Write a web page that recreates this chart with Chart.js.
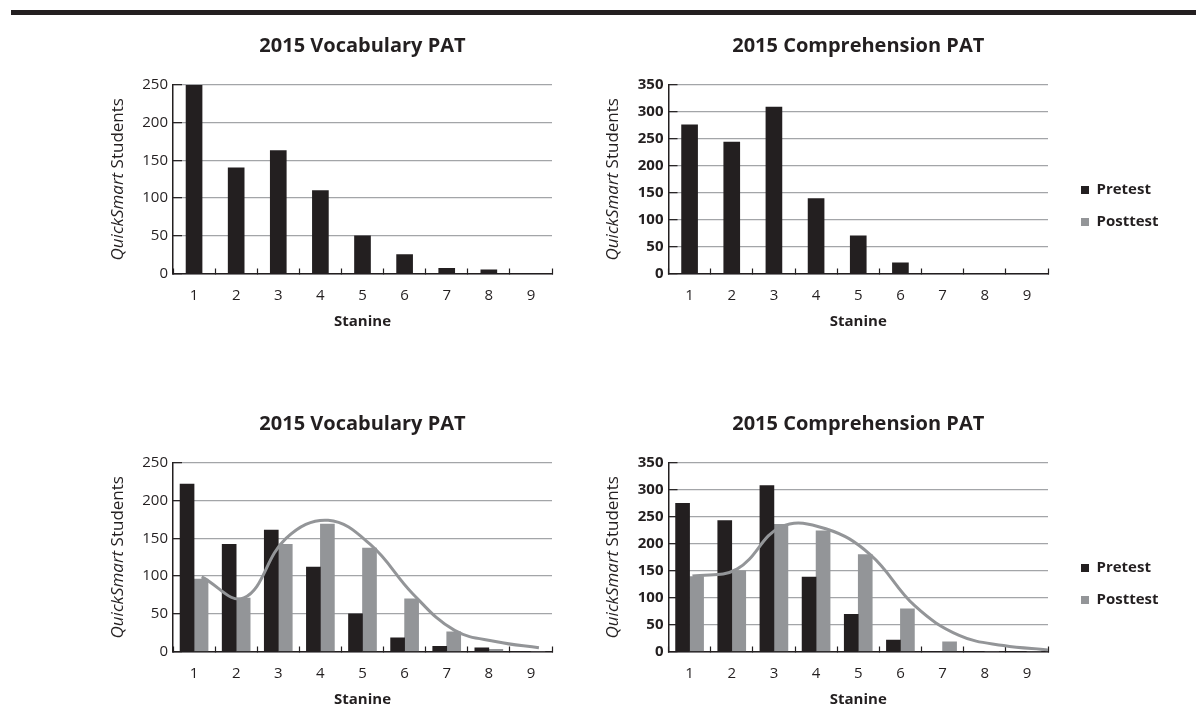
<!DOCTYPE html>
<html>
<head>
<meta charset="utf-8">
<title>2015 PAT stanines</title>
<script src="https://cdn.jsdelivr.net/npm/chart.js@4.4.1/dist/chart.umd.min.js"></script>
<style>
    body { margin: 0; background: #fff; width: 1196px; height: 712px; position: relative; overflow: hidden; }
    .rule { position: absolute; left: 11px; right: 0; top: 10px; height: 5px; background: #231f20; }
    .panel { position: absolute; }
</style>
</head>
<body>
<div class="rule"></div>
<div class="panel" style="left:0;top:20px;width:590px;height:320px"><canvas id="vocabTop"></canvas></div>
<div class="panel" style="left:590px;top:20px;width:606px;height:320px"><canvas id="compTop"></canvas></div>
<div class="panel" style="left:0;top:398px;width:590px;height:320px"><canvas id="vocabBottom"></canvas></div>
<div class="panel" style="left:590px;top:398px;width:606px;height:320px"><canvas id="compBottom"></canvas></div>

<script>
// stanine categories
const stanines = ['1', '2', '3', '4', '5', '6', '7', '8', '9'];

// top row: pretest only
const vocabPretestTop = [250, 140, 163, 110, 50, 25, 7, 5, 0];
const compPretestTop = [276, 244, 309, 139, 70, 20, 0, 0, 0];

// bottom row: pretest, posttest and the smoothed posttest curve
const vocabPretest = [222, 142, 161, 112, 50, 18, 7, 5, 0];
const vocabPosttest = [96, 71, 142, 169, 137, 70, 26, 3, 0];
const vocabCurve = [99, 71, 150, 174, 142, 77, 28, 13, 5];

const compPretest = [275, 243, 308, 138, 69, 21, 0, 0, 0];
const compPosttest = [139, 150, 236, 224, 180, 79, 18, 0, 0];
const compCurve = [140, 153, 232, 228, 180, 85, 30, 11, 3];

const ink = '#231f20';
const grey = '#939598';
const gridGrey = '#a3a5a8';
const family = '"Open Sans", "Noto Sans", sans-serif';

// y axis title with the italic programme name
const yTitlePlugin = {
    id: 'yTitle',
    beforeLayout(chart) {
        // fixed legend width so the plot keeps its place
        const lg = chart.legend;
        if (lg && !lg._fixedWidth) {
            const fit = lg.fit.bind(lg);
            lg.fit = function () {
                fit();
                if (this.options.display) this.width = 100;
            };
            lg._fixedWidth = true;
        }
    },
    afterDraw(chart) {
        const { ctx, chartArea } = chart;
        const x = chartArea.left - 55;
        const y = (chartArea.top + chartArea.bottom) / 2;
        const italicFont = `italic 17px ${family}`;
        const plainFont = `17px ${family}`;
        ctx.save();
        ctx.translate(x, y);
        ctx.rotate(-Math.PI / 2);
        ctx.fillStyle = ink;
        ctx.textBaseline = 'middle';
        ctx.textAlign = 'left';
        ctx.font = italicFont;
        const wa = ctx.measureText('QuickSmart').width;
        ctx.font = plainFont;
        const wb = ctx.measureText(' Students').width;
        const start = -(wa + wb) / 2;
        ctx.font = italicFont;
        ctx.fillText('QuickSmart', start, 0);
        ctx.font = plainFont;
        ctx.fillText(' Students', start + wa, 0);
        ctx.restore();
    }
};

function buildChart(id, opts) {
    const datasets = [];
    if (opts.curve) {
        datasets.push({
            type: 'line',
            label: 'Curve',
            data: opts.curve.map((v, i) => ({ x: Number(stanines[i]), y: v })),
            xAxisID: 'xCurve',
            borderColor: grey,
            borderWidth: 3,
            pointRadius: 0,
            tension: 0.4,
            fill: false,
            order: -1
        });
    }
    const grouped = !!opts.post;
    const thickness = opts.post ? 14 : 16;
    datasets.push({
        label: 'Pretest',
        data: opts.pre,
        backgroundColor: ink,
        borderWidth: 0,
        barThickness: thickness,
        grouped: grouped
    });
    datasets.push({
        label: 'Posttest',
        data: opts.post || [],
        backgroundColor: grey,
        borderWidth: 0,
        barThickness: thickness,
        grouped: grouped
    });

    const scales = {
        x: {
            type: 'category',
            offset: true,
            grid: { offset: true, drawOnChartArea: false, tickLength: -5, color: ink, tickColor: ink, tickWidth: 1.2 },
            border: { color: ink, width: 1.5 },
            ticks: { color: ink, padding: 18, font: { family: family, size: 15 } },
            title: {
                display: true, text: 'Stanine', color: ink,
                font: { family: family, size: 15, weight: 'bold' },
                padding: { top: 0, bottom: 3 }
            },
            afterFit: s => { s.height = 60; }
        },
        y: {
            min: 0,
            max: opts.max,
            ticks: {
                stepSize: 50, padding: 14, color: ink,
                font: { family: family, size: 15, weight: opts.boldTicks ? 'bold' : 'normal' }
            },
            grid: { color: gridGrey, lineWidth: 1.3, tickLength: -9, tickColor: ink, tickWidth: 1.2 },
            border: { color: ink, width: 1.5 },
            afterFit: s => { s.width = 50; }
        }
    };
    if (opts.curve) {
        scales.xCurve = { type: 'linear', display: false, offset: false, min: opts.curveMin, max: opts.curveMax };
    }
    if (opts.legend) {
        // keeps the legend clear of the plot
        scales.gap = {
            type: 'linear', position: 'right', display: true,
            grid: { display: false }, border: { display: false }, ticks: { display: false },
            afterFit: s => { s.width = 16; }
        };
    }

    return new Chart(document.getElementById(id), {
        type: 'bar',
        data: { labels: stanines, datasets: datasets },
        options: {
            responsive: true,
            maintainAspectRatio: false,
            animation: false,
            layout: { padding: { left: opts.padLeft, right: opts.padRight, top: 0, bottom: 6.5 } },
            scales: scales,
            plugins: {
                title: {
                    display: true, text: opts.title, fullSize: false, color: ink,
                    font: { family: family, size: 20, weight: 'bold' },
                    padding: { top: 14, bottom: 27 }
                },
                legend: {
                    display: !!opts.legend,
                    position: 'right',
                    align: 'center',
                    fullSize: false,
                    title: { display: true, text: '', padding: { top: 39, bottom: 0 } },
                    labels: {
                        boxWidth: 8, boxHeight: 8, padding: 17, color: ink,
                        font: { family: family, size: 15, weight: 'bold' },
                        filter: item => item.text !== 'Curve'
                    }
                },
                tooltip: { enabled: false }
            }
        },
        plugins: [yTitlePlugin]
    });
}

buildChart('vocabTop', {
    title: '2015 Vocabulary PAT', pre: vocabPretestTop, max: 250,
    padLeft: 123, padRight: 38
});
buildChart('compTop', {
    title: '2015 Comprehension PAT', pre: compPretestTop, max: 350,
    padLeft: 28.5, padRight: 32, legend: true, boldTicks: true
});
buildChart('vocabBottom', {
    title: '2015 Vocabulary PAT', pre: vocabPretest, post: vocabPosttest, curve: vocabCurve,
    curveMin: 0.32, curveMax: 9.31, max: 250, padLeft: 123, padRight: 38
});
buildChart('compBottom', {
    title: '2015 Comprehension PAT', pre: compPretest, post: compPosttest, curve: compCurve,
    curveMin: 0.46, curveMax: 9.0, max: 350, padLeft: 28.5, padRight: 32, legend: true, boldTicks: true
});
</script>
</body>
</html>
